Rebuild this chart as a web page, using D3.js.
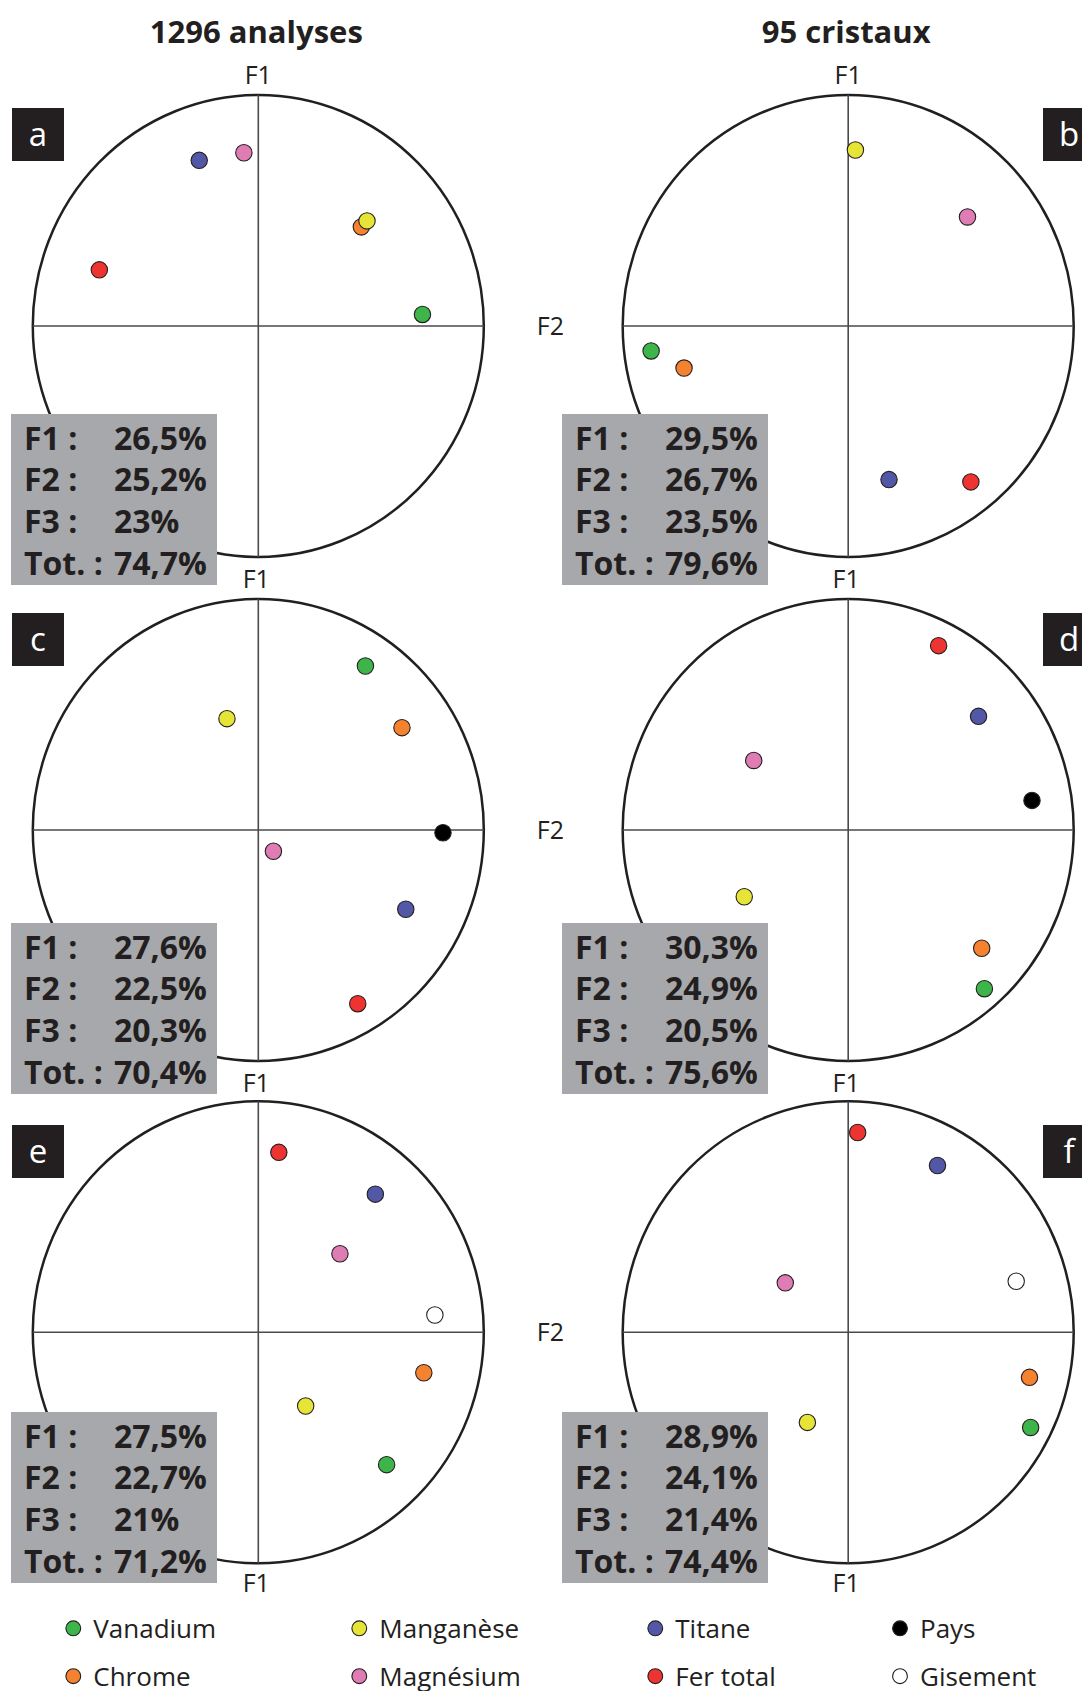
<!DOCTYPE html>
<html>
<head>
<meta charset="utf-8">
<script src="https://cdn.jsdelivr.net/npm/d3@7"></script>
<style>
  html, body { margin: 0; padding: 0; background: #fff; }
  svg { display: block; }
  text { font-family: 'Open Sans', 'Noto Sans', sans-serif; }
</style>
</head>
<body>
<svg id="chart" width="1082" height="1691"></svg>
<script>
// ---------- DATA ----------
const columnTitles = ["1296 analyses", "95 cristaux"];
const panelIds = ["a", "b", "c", "d", "e", "f"];
const elements = ["Vanadium", "Chrome", "Manganèse", "Magnésium", "Titane", "Fer total", "Pays", "Gisement"];
const elementColors = ["#3db54a", "#f5822f", "#e6e537", "#de7cb3", "#5258a6", "#ee3431", "#000000", "#ffffff"];

// coordinates on the correlation circle (F2 horizontal, F1 vertical), order = elements
const panelA_F2 = [0.728, 0.457, 0.482, -0.064, -0.262, -0.705, null, null];
const panelA_F1 = [0.050, 0.429, 0.455, 0.750, 0.717, 0.243, null, null];
const panelB_F2 = [-0.874, -0.728, 0.032, 0.529, 0.181, 0.544, null, null];
const panelB_F1 = [-0.108, -0.182, 0.762, 0.472, -0.665, -0.675, null, null];
const panelC_F2 = [0.475, 0.637, -0.139, 0.067, 0.654, 0.441, 0.819, null];
const panelC_F1 = [0.710, 0.443, 0.482, -0.092, -0.343, -0.752, -0.012, null];
const panelD_F2 = [0.604, 0.592, -0.461, -0.419, 0.578, 0.401, 0.815, null];
const panelD_F1 = [-0.687, -0.512, -0.289, 0.301, 0.492, 0.798, 0.128, null];
const panelE_F2 = [0.569, 0.734, 0.210, 0.362, 0.519, 0.091, null, 0.783];
const panelE_F1 = [-0.573, -0.175, -0.319, 0.340, 0.598, 0.779, null, 0.075];
const panelF_F2 = [0.809, 0.804, -0.181, -0.279, 0.396, 0.042, null, 0.745];
const panelF_F1 = [-0.412, -0.195, -0.390, 0.214, 0.722, 0.865, null, 0.221];

const statLabels = ["F1 :", "F2 :", "F3 :", "Tot. :"];
const statF1 = ["26,5%", "29,5%", "27,6%", "30,3%", "27,5%", "28,9%"];
const statF2 = ["25,2%", "26,7%", "22,5%", "24,9%", "22,7%", "24,1%"];
const statF3 = ["23%", "23,5%", "20,3%", "20,5%", "21%", "21,4%"];
const statTot = ["74,7%", "79,6%", "70,4%", "75,6%", "71,2%", "74,4%"];

// ---------- LAYOUT ----------
const colCx = [258.3, 848.2];
const rowCy = [326, 830, 1332.3];
const RX = 225.5, RY = 231;
const statBoxX = [11, 562];
const statBoxY = [414, 923, 1412];
const statBoxW = 206, statBoxH = 171;
const letterBoxX = [12, 1043];
const letterBoxY = [108, 613, 1125];
const inkDark = "#231f20";

const svg = d3.select("#chart");

const panelF2 = [panelA_F2, panelB_F2, panelC_F2, panelD_F2, panelE_F2, panelF_F2];
const panelF1 = [panelA_F1, panelB_F1, panelC_F1, panelD_F1, panelE_F1, panelF_F1];
const stats = panelIds.map((_, i) => [statF1[i], statF2[i], statF3[i], statTot[i]]);

// Column titles
svg.selectAll("text.coltitle").data(columnTitles).join("text")
  .attr("class", "coltitle")
  .attr("x", (d, i) => colCx[i] - 2)
  .attr("y", 43)
  .attr("text-anchor", "middle")
  .attr("font-size", 31)
  .attr("font-weight", 700)
  .attr("fill", inkDark)
  .text(d => d);

panelIds.forEach((id, p) => {
  const col = p % 2, row = Math.floor(p / 2);
  const cx = colCx[col], cy = rowCy[row];
  const x = d3.scaleLinear().domain([-1, 1]).range([cx - RX, cx + RX]);
  const y = d3.scaleLinear().domain([-1, 1]).range([cy + RY, cy - RY]);
  const g = svg.append("g").attr("class", "panel-" + id);

  // circle
  g.append("ellipse")
    .attr("cx", x(0)).attr("cy", y(0))
    .attr("rx", x(1) - x(0)).attr("ry", y(0) - y(1))
    .attr("fill", "#fff").attr("stroke", inkDark).attr("stroke-width", 2.5);
  // axes
  g.append("line").attr("x1", x(-1)).attr("x2", x(1)).attr("y1", y(0)).attr("y2", y(0))
    .attr("stroke", "#4a4a4a").attr("stroke-width", 1.6);
  g.append("line").attr("x1", x(0)).attr("x2", x(0)).attr("y1", y(1)).attr("y2", y(-1))
    .attr("stroke", "#4a4a4a").attr("stroke-width", 1.6);

  // points
  const pts = elements.map((name, i) => ({ name, color: elementColors[i], f2: panelF2[p][i], f1: panelF1[p][i] }))
    .filter(d => d.f2 !== null && d.f1 !== null);
  g.selectAll("circle.pt").data(pts).join("circle")
    .attr("class", "pt")
    .attr("cx", d => x(d.f2)).attr("cy", d => y(d.f1))
    .attr("r", 8.2)
    .attr("fill", d => d.color)
    .attr("stroke", inkDark).attr("stroke-width", 1.1);

  // F1 labels (top of each column's first row, and below each circle)
  if (row === 0) {
    g.append("text").attr("x", x(0)).attr("y", y(1) - 11)
      .attr("text-anchor", "middle").attr("font-size", 25).attr("fill", inkDark).text("F1");
  }
  g.append("text").attr("x", x(0) - 2).attr("y", row === 2 ? y(-1) + 29 : y(-1) + 31)
    .attr("text-anchor", "middle").attr("font-size", 25).attr("fill", inkDark).text("F1");
  // F2 label for right column
  if (col === 1) {
    g.append("text").attr("x", 564).attr("y", y(0) + 9)
      .attr("text-anchor", "end").attr("font-size", 25).attr("fill", inkDark).text("F2");
  }

  // stats box
  const bx = statBoxX[col], by = statBoxY[row];
  g.append("rect").attr("x", bx).attr("y", by).attr("width", statBoxW).attr("height", statBoxH)
    .attr("fill", "#a6a8ab");
  g.selectAll("text.slab").data(statLabels).join("text")
    .attr("class", "slab")
    .attr("x", bx + 13).attr("y", (d, i) => by + 35.5 + i * 41.9)
    .attr("font-size", 32).attr("font-weight", 700).attr("fill", inkDark)
    .text(d => d);
  g.selectAll("text.sval").data(stats[p]).join("text")
    .attr("class", "sval")
    .attr("x", bx + 103).attr("y", (d, i) => by + 35.5 + i * 41.9)
    .attr("font-size", 32).attr("font-weight", 700).attr("fill", inkDark)
    .text(d => d);

  // letter box
  const lx = letterBoxX[col], ly = letterBoxY[row];
  g.append("rect").attr("x", lx).attr("y", ly).attr("width", 52).attr("height", 53).attr("fill", inkDark);
  g.append("text").attr("x", lx + 26).attr("y", ly + 38)
    .attr("text-anchor", "middle").attr("font-size", 33).attr("fill", "#fff").text(id);
});

// Legend
const legendX = [73.3, 359.3, 655.3, 900];
const legendY = [1628.3, 1676.2];
const leg = svg.append("g").attr("class", "legend");
const legItems = elements.map((name, i) => ({ name, color: elementColors[i], col: Math.floor(i / 2), row: i % 2 }));
leg.selectAll("circle").data(legItems).join("circle")
  .attr("cx", d => legendX[d.col]).attr("cy", d => legendY[d.row])
  .attr("r", 7.4)
  .attr("fill", d => d.color).attr("stroke", inkDark).attr("stroke-width", 1.1);
leg.selectAll("text").data(legItems).join("text")
  .attr("x", d => legendX[d.col] + 20).attr("y", d => legendY[d.row] + 10)
  .attr("font-size", 26).attr("fill", inkDark)
  .text(d => d.name);
</script>
</body>
</html>
